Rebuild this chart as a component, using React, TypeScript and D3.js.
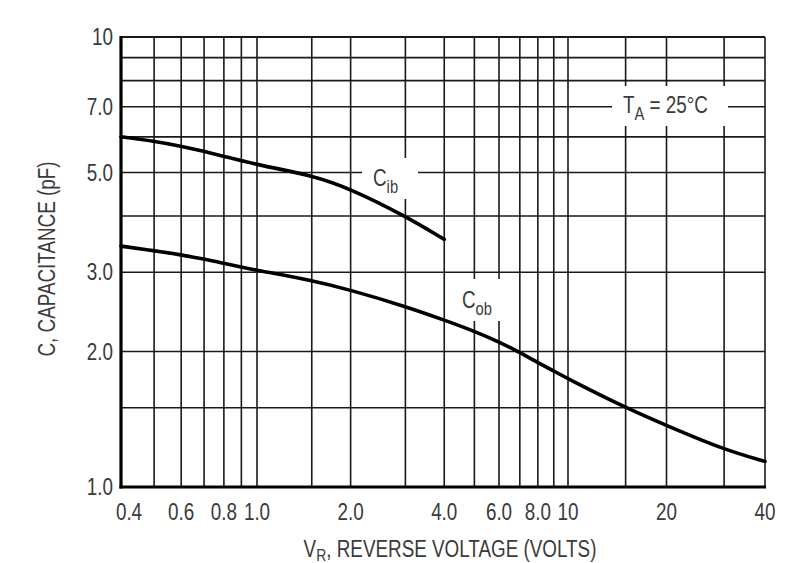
import React from 'react';
import * as d3 from 'd3';

// reverse voltage (V) and capacitance (pF)
const cibVolts = [0.4, 0.5, 0.6, 0.7, 0.8, 1.0, 1.5, 2.0, 3.0, 4.0];
const cibPf = [6.0, 5.87, 5.72, 5.57, 5.43, 5.2, 4.93, 4.6, 4.0, 3.55];

const cobVolts = [0.4, 0.5, 0.6, 0.7, 0.8, 0.9, 1.0, 1.5, 2, 3, 4, 5, 6, 7, 8, 9, 10, 15, 20, 30, 40];
const cobPf = [3.43, 3.35, 3.28, 3.21, 3.14, 3.08, 3.03, 2.88, 2.74, 2.52, 2.35, 2.22, 2.1, 1.99, 1.89, 1.81, 1.74, 1.5, 1.37, 1.21, 1.14];

const xGrid = [0.4, 0.5, 0.6, 0.7, 0.8, 0.9, 1, 1.5, 2, 3, 4, 5, 6, 7, 8, 9, 10, 15, 20, 30, 40];
const yGrid = [1, 1.5, 2, 3, 4, 5, 6, 7, 8, 9, 10];

const xTicks = [0.4, 0.6, 0.8, 1, 2, 4, 6, 8, 10, 20, 40];
const xTickLabels = ['0.4', '0.6', '0.8', '1.0', '2.0', '4.0', '6.0', '8.0', '10', '20', '40'];
const yTicks = [1, 2, 3, 5, 7, 10];
const yTickLabels = ['1.0', '2.0', '3.0', '5.0', '7.0', '10'];

const FONT = "'Liberation Sans', Arial, sans-serif";
const INK = '#1a1a1a';
const TXT = '#3a3a3a';
const NARROW = 0.82;

// Arial-Narrow look: squeeze a regular face horizontally
function Narrow({ x, y, anchor = 'start', baseline, rotate = 0, children }: any) {
  return (
    <text
      transform={`translate(${x},${y}) rotate(${rotate}) scale(${NARROW},1)`}
      textAnchor={anchor}
      dominantBaseline={baseline}
    >
      {children}
    </text>
  );
}

export default function App() {
  const width = 790;
  const height = 563;
  const left = 121, right = 765, top = 37, bottom = 487;

  // the printed grid is not quite a true log scale, so pin the decades
  const xScale = d3.scaleLog().domain([0.4, 1, 10, 40]).range([left, 257, 568, right]);
  const yScale = d3.scaleLog().domain([1, 10]).range([bottom, top]);

  const line = d3.line<[number, number]>()
    .x(d => xScale(d[0]))
    .y(d => yScale(d[1]))
    .curve(d3.curveBasis);

  const cib = cibVolts.map((v, i) => [v, cibPf[i]] as [number, number]);
  const cob = cobVolts.map((v, i) => [v, cobPf[i]] as [number, number]);

  return (
    <svg width={width} height={height} style={{ position: 'absolute', left: 0, top: 0, background: '#fff' }}>
      <rect x={0} y={0} width={width} height={height} fill="#fff" />
      <g stroke={INK} strokeWidth={1.6}>
        {xGrid.map(v => (
          <line key={'vx' + v} x1={xScale(v)} x2={xScale(v)} y1={top} y2={bottom} />
        ))}
        {yGrid.map(v => (
          <line key={'hy' + v} x1={left} x2={right} y1={yScale(v)} y2={yScale(v)} />
        ))}
      </g>
      {/* label knock-outs */}
      <rect x={362} y={158} width={56} height={41} fill="#fff" />
      <rect x={456} y={279} width={48} height={42} fill="#fff" />
      <rect x={612} y={86} width={116} height={40} fill="#fff" />

      <line x1={left} x2={right} y1={top} y2={top} stroke={INK} strokeWidth={2.2} />
      <line x1={left} x2={left} y1={top - 1} y2={bottom + 1.5} stroke="#000" strokeWidth={3.2} />
      <line x1={left - 1.5} x2={right + 1} y1={bottom} y2={bottom} stroke="#000" strokeWidth={3.2} />

      <path d={line(cib) || ''} fill="none" stroke="#000" strokeWidth={3.6} strokeLinecap="round" />
      <path d={line(cob) || ''} fill="none" stroke="#000" strokeWidth={3.6} strokeLinecap="round" />

      <g fontFamily={FONT} fill={TXT} fontSize={23}>
        {yTicks.map((v, i) => (
          <Narrow key={'yt' + v} x={113} y={yScale(v)} anchor="end" baseline="central">
            {yTickLabels[i]}
          </Narrow>
        ))}
        {xTicks.map((v, i) => (
          <Narrow key={'xt' + v} x={xScale(v) + (i === 0 ? 8 : 0)} y={512} anchor="middle" baseline="central">
            {xTickLabels[i]}
          </Narrow>
        ))}
        <Narrow x={450} y={557} anchor="middle">
          <tspan>V</tspan>
          <tspan fontSize={17} dy={4}>R</tspan>
          <tspan dy={-4}>, REVERSE VOLTAGE (VOLTS)</tspan>
        </Narrow>
        <Narrow x={55} y={259} anchor="middle" rotate={-90}>
          C, CAPACITANCE (pF)
        </Narrow>
        <Narrow x={623} y={113}>
          <tspan>T</tspan>
          <tspan fontSize={18} dy={7}>A</tspan>
          <tspan dy={-7}> = 25°C</tspan>
        </Narrow>
        <Narrow x={373} y={186}>
          <tspan>C</tspan>
          <tspan fontSize={18} dy={7}>ib</tspan>
        </Narrow>
        <Narrow x={462} y={308}>
          <tspan>C</tspan>
          <tspan fontSize={18} dy={7}>ob</tspan>
        </Narrow>
      </g>
    </svg>
  );
}
